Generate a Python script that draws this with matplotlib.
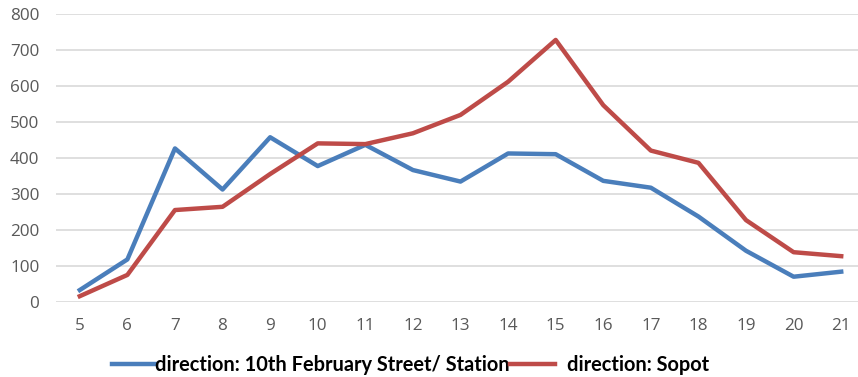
import matplotlib
matplotlib.use("Agg")
import matplotlib.pyplot as plt

hours = [5, 6, 7, 8, 9, 10, 11, 12, 13, 14, 15, 16, 17, 18, 19, 20, 21]
station = [34, 119, 427, 313, 458, 378, 437, 367, 335, 413, 411, 337, 318, 238, 143, 71, 85]
sopot = [17, 76, 256, 265, 356, 441, 439, 469, 520, 612, 728, 547, 421, 387, 228, 139, 128]
series_names = ["direction: 10th February Street/ Station", "direction: Sopot"]
y_ticks = [0, 100, 200, 300, 400, 500, 600, 700, 800]

W, H = 858, 377
fig = plt.figure(figsize=(W / 100, H / 100), dpi=100)
ax = fig.add_axes([56 / W, (H - 302.3) / H, (865 - 56) / W, (302.3 - 14) / H])

pos = list(range(len(hours)))
l1, = ax.plot(pos, station, color="#4A7EBB", lw=3.2, solid_joinstyle="round", zorder=3)
l2, = ax.plot(pos, sopot, color="#BE4B48", lw=3.2, solid_joinstyle="round", zorder=3)

ax.set_xlim(-0.5, len(hours) - 0.5)
ax.set_ylim(0, 800)
ax.set_yticks(y_ticks)
ax.set_xticks(pos)
ax.set_xticklabels([str(h) for h in hours])
ax.grid(axis="y", color="#D9D9D9", lw=1.2)
ax.set_axisbelow(True)
for s in ax.spines.values():
    s.set_visible(False)
ax.tick_params(length=0, labelsize=12.3, labelcolor="#595959")
ax.tick_params(axis="x", pad=11)
ax.tick_params(axis="y", pad=12)
for lab in ax.get_xticklabels() + ax.get_yticklabels():
    lab.set_fontfamily("Open Sans")

# legend entries placed separately along the bottom
leg_font = {"family": "Lato", "weight": "bold", "size": 14.4}
em = 14.4 * 100 / 72
leg1 = fig.legend([l1], [series_names[0]], loc="center left", bbox_to_anchor=(112 / W, 12 / H),
                  frameon=False, handlelength=43 / em, handletextpad=0.0,
                  borderpad=0, borderaxespad=0, prop=leg_font)
leg2 = fig.legend([l2], [series_names[1]], loc="center left", bbox_to_anchor=(510 / W, 12 / H),
                  frameon=False, handlelength=45 / em, handletextpad=12 / em,
                  borderpad=0, borderaxespad=0, prop=leg_font)

fig.savefig("out.png", dpi=100)
